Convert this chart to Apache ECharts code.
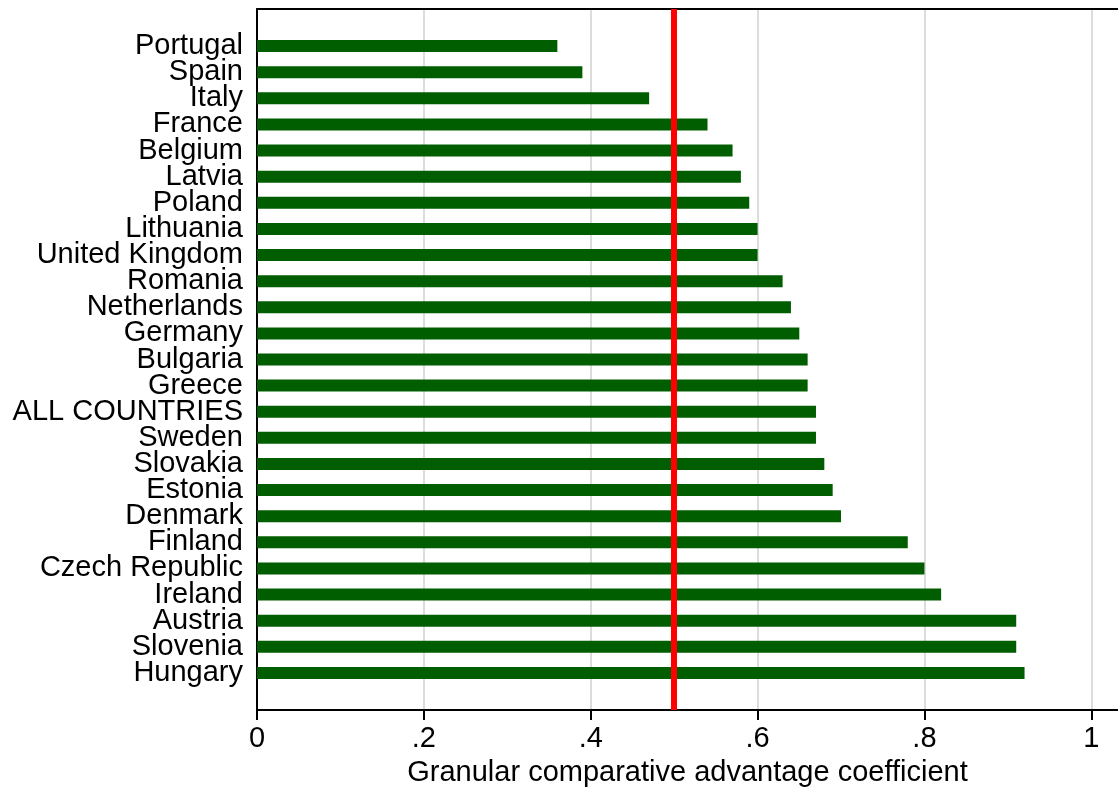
<!DOCTYPE html>
<html>
<head>
<meta charset="utf-8">
<script src="https://cdn.jsdelivr.net/npm/echarts@6/dist/echarts.min.js"></script>
<style>
  html, body { margin: 0; padding: 0; background: #fff; }
  #main { width: 1118px; height: 789px; }
</style>
</head>
<body>
<div id="main"></div>
<script>
// countries, top to bottom
const countries = [
  'Portugal', 'Spain', 'Italy', 'France', 'Belgium', 'Latvia', 'Poland',
  'Lithuania', 'United Kingdom', 'Romania', 'Netherlands', 'Germany',
  'Bulgaria', 'Greece', 'ALL COUNTRIES', 'Sweden', 'Slovakia', 'Estonia',
  'Denmark', 'Finland', 'Czech Republic', 'Ireland', 'Austria', 'Slovenia',
  'Hungary'
];
const coefficient = [
  0.36, 0.39, 0.47, 0.54, 0.57, 0.58, 0.59,
  0.60, 0.60, 0.63, 0.64, 0.65,
  0.66, 0.66, 0.67, 0.67, 0.68, 0.69,
  0.70, 0.78, 0.80, 0.82, 0.91, 0.91,
  0.92
];
const xTicks = [0, 0.2, 0.4, 0.6, 0.8, 1];
const refLine = 0.5;

const font = 'Liberation Sans, Arial, sans-serif';
const fs = 29;
const fmt = v => (v === 0 ? '0' : v === 1 ? '1' : String(+v.toFixed(1)).replace(/^0/, ''));

const chart = echarts.init(document.getElementById('main'), null, { renderer: 'canvas' });

chart.setOption({
  animation: false,
  backgroundColor: '#fff',
  grid: [
    // frame grid: axes, gridlines, reference line
    { left: 257, right: 0, top: 9, bottom: 79, outerBoundsMode: 'none', containLabel: false },
    // bar grid, inset like the Stata plot region
    { left: 257, right: 0, top: 33, bottom: 103, outerBoundsMode: 'none', containLabel: false }
  ],
  xAxis: [
    {
      gridIndex: 0, type: 'value', min: 0, max: 1.032, interval: 0.2,
      axisLine: { show: true, onZero: false, lineStyle: { color: '#000', width: 2 } },
      axisTick: { show: true, length: 10, lineStyle: { color: '#000', width: 2 },
        customValues: xTicks },
      axisLabel: { fontSize: fs, color: '#000', fontFamily: font, margin: 14,
        customValues: xTicks, formatter: fmt },
      splitLine: { show: true, lineStyle: { color: '#dcdcdc', width: 2 } },
      name: 'Granular comparative advantage coefficient',
      nameLocation: 'middle', nameGap: 48,
      nameTextStyle: { fontSize: fs, color: '#000', fontFamily: font }
    },
    {
      gridIndex: 0, type: 'value', position: 'top', min: 0, max: 1.032,
      axisLine: { show: true, onZero: false, lineStyle: { color: '#000', width: 2 } },
      axisTick: { show: false }, axisLabel: { show: false }, splitLine: { show: false }
    },
    {
      gridIndex: 1, type: 'value', min: 0, max: 1.032, show: false
    }
  ],
  yAxis: [
    {
      gridIndex: 0, type: 'value', min: 0, max: 1,
      axisLine: { show: true, onZero: false, lineStyle: { color: '#000', width: 2 } },
      axisTick: { show: false }, axisLabel: { show: false }, splitLine: { show: false }
    },
    {
      gridIndex: 1, type: 'category', data: countries, inverse: true,
      axisLine: { show: false }, axisTick: { show: false },
      axisLabel: { fontSize: fs, color: '#000', fontFamily: font, margin: 14, interval: 0 }
    }
  ],
  series: [
    {
      type: 'bar', xAxisIndex: 2, yAxisIndex: 1,
      data: coefficient, barWidth: 12,
      itemStyle: { color: '#005e00' }
    },
    {
      type: 'line', xAxisIndex: 0, yAxisIndex: 0, z: 5,
      data: [], silent: true,
      markLine: {
        symbol: 'none', silent: true, label: { show: false },
        lineStyle: { color: '#ff0000', width: 6, type: 'solid' },
        data: [{ xAxis: refLine }]
      }
    }
  ]
});
</script>
</body>
</html>
